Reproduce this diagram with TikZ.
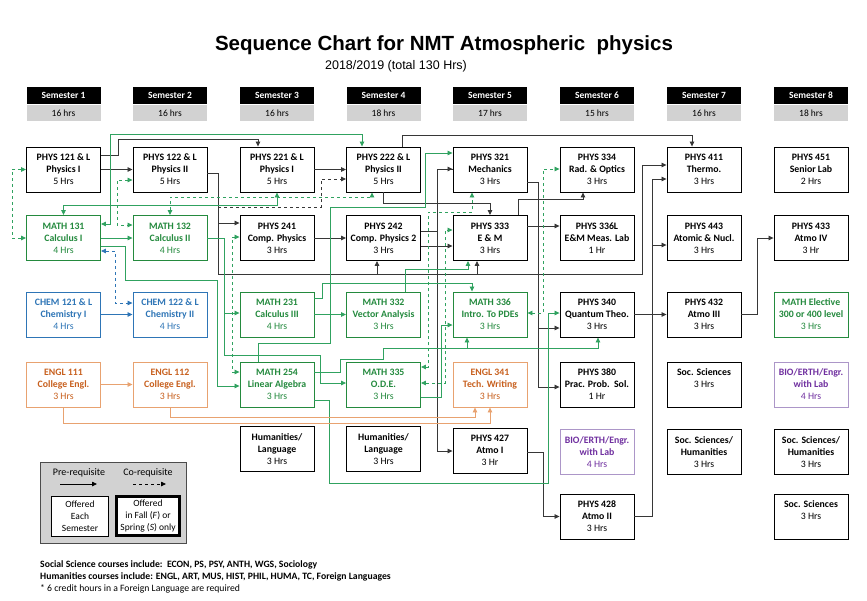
\documentclass[tikz,border=0pt]{standalone}
\usepackage{fontspec}
\setmainfont{Carlito}
\newfontfamily\headfont{Liberation Sans}
\usetikzlibrary{arrows.meta}
\definecolor{mathgreen}{RGB}{36,138,62}
\definecolor{linegreen}{RGB}{48,162,96}
\definecolor{chemblue}{RGB}{46,117,182}
\definecolor{englorange}{RGB}{200,96,30}
\definecolor{orangeline}{RGB}{232,162,112}
\definecolor{biopurple}{RGB}{112,48,160}
\definecolor{purpleline}{RGB}{172,150,200}
\definecolor{hrsgray}{RGB}{210,210,210}
\definecolor{darkline}{RGB}{55,55,55}
\newcommand{\crstext}[3]{\textbf{#1}\\\textbf{#2}\\#3}
\tikzset{
  course/.style={draw=black, line width=0.9pt, fill=white, minimum width=74pt, minimum height=45pt,
    inner sep=0pt, align=center, font=\fontsize{9.8}{12}\selectfont},
  physbox/.style={course},
  mathbox/.style={course, draw=mathgreen, text=mathgreen},
  chembox/.style={course, draw=chemblue, text=chemblue},
  englbox/.style={course, draw=orangeline, text=englorange},
  biobox/.style={course, draw=purpleline, text=biopurple},
  semhead/.style={fill=black, text=white, minimum width=74pt, minimum height=17pt, inner sep=0pt,
    font=\bfseries\fontsize{9.5}{10}\selectfont},
  semhrs/.style={fill=hrsgray, minimum width=74pt, minimum height=16pt, inner sep=0pt,
    font=\fontsize{9.5}{10}\selectfont},
  pre/.style={darkline, line width=0.8pt},
  co/.style={pre, dashed},
  gpre/.style={linegreen, line width=0.8pt},
  gco/.style={gpre, dashed},
  bpre/.style={chemblue, line width=0.8pt},
  opre/.style={orangeline, line width=0.8pt},
}
\begin{document}
\begin{tikzpicture}[x=1pt,y=-1pt,>={Triangle[length=5pt,width=4.5pt]}]
\useasboundingbox (0,0) rectangle (867,600);
\node[font=\headfont\bfseries\fontsize{20.5}{24}\selectfont] (title) at (444,45) {Sequence Chart for NMT Atmospheric\ \ physics};
\node[font=\headfont\fontsize{12.5}{14}\selectfont] (subtitle) at (396,66) {2018/2019 (total 130 Hrs)};

\foreach \cx/\hrs [count=\i] in {63.5/16,170/16,277/16,383.5/18,490/17,597/15,704/16,811/18}{
  \node[semhead] (sem\i) at (\cx,95.5) {Semester \i};
  \node[semhrs] (hrs\i) at (\cx,113) {\hrs\ hrs};
}

% semester 1
\node[physbox] (p121) at (63.5,169.5) {\crstext{PHYS 121 \& L}{Physics I}{5 Hrs}};
\node[mathbox] (m131) at (63.5,238) {\crstext{MATH 131}{Calculus I}{4 Hrs}};
\node[chembox] (c121) at (63.5,314.5) {\crstext{CHEM 121 \& L}{Chemistry I}{4 Hrs}};
\node[englbox] (e111) at (63.5,384.5) {\crstext{ENGL 111}{College Engl.}{3 Hrs}};
% semester 2
\node[physbox] (p122) at (170,169.5) {\crstext{PHYS 122 \& L}{Physics II}{5 Hrs}};
\node[mathbox] (m132) at (170,238) {\crstext{MATH 132}{Calculus II}{4 Hrs}};
\node[chembox] (c122) at (170,314.5) {\crstext{CHEM 122 \& L}{Chemistry II}{4 Hrs}};
\node[englbox] (e112) at (170,384.5) {\crstext{ENGL 112}{College Engl.}{3 Hrs}};
% semester 3
\node[physbox] (p221) at (277,169.5) {\crstext{PHYS 221 \& L}{Physics I}{5 Hrs}};
\node[physbox] (p241) at (277,238) {\crstext{PHYS 241}{Comp. Physics}{3 Hrs}};
\node[mathbox] (m231) at (277,314.5) {\crstext{MATH 231}{Calculus III}{4 Hrs}};
\node[mathbox] (m254) at (277,384.5) {\crstext{MATH 254}{Linear Algebra}{3 Hrs}};
\node[physbox] (hum3) at (277,449) {\crstext{Humanities/}{Language}{3 Hrs}};
% semester 4
\node[physbox] (p222) at (383.5,169.5) {\crstext{PHYS 222 \& L}{Physics II}{5 Hrs}};
\node[physbox] (p242) at (383.5,238) {\crstext{PHYS 242}{Comp. Physics 2}{3 Hrs}};
\node[mathbox] (m332) at (383.5,314.5) {\crstext{MATH 332}{Vector Analysis}{3 Hrs}};
\node[mathbox] (m335) at (383.5,384.5) {\crstext{MATH 335}{O.D.E.}{3 Hrs}};
\node[physbox] (hum4) at (383.5,449) {\crstext{Humanities/}{Language}{3 Hrs}};
% semester 5
\node[physbox] (p321) at (490,169.5) {\crstext{PHYS 321}{Mechanics}{3 Hrs}};
\node[physbox] (p333) at (490,238) {\crstext{PHYS 333}{E \& M}{3 Hrs}};
\node[mathbox] (m336) at (490,314.5) {\crstext{MATH 336}{Intro. To PDEs}{3 Hrs}};
\node[englbox] (e341) at (490,384.5) {\crstext{ENGL 341}{Tech. Writing}{3 Hrs}};
\node[physbox] (p427) at (490,450.5) {\crstext{PHYS 427}{Atmo I}{3 Hr}};
% semester 6
\node[physbox] (p334) at (597,169.5) {\crstext{PHYS 334}{Rad. \& Optics}{3 Hrs}};
\node[physbox] (p336) at (597,238) {\crstext{PHYS 336L}{E\&M Meas. Lab}{1 Hr}};
\node[physbox] (p340) at (597,314.5) {\crstext{PHYS 340}{Quantum Theo.}{3 Hrs}};
\node[physbox] (p380) at (597,384.5) {\crstext{PHYS 380}{Prac. Prob.\ \ Sol.}{1 Hr}};
\node[biobox] (bio6) at (597,452) {\crstext{BIO/ERTH/Engr.}{with Lab}{4 Hrs}};
\node[physbox] (p428) at (597,516.5) {\crstext{PHYS 428}{Atmo II}{3 Hrs}};
% semester 7
\node[physbox] (p411) at (704,169.5) {\crstext{PHYS 411}{Thermo.}{3 Hrs}};
\node[physbox] (p443) at (704,238) {\crstext{PHYS 443}{Atomic \& Nucl.}{3 Hrs}};
\node[physbox] (p432) at (704,314.5) {\crstext{PHYS 432}{Atmo III}{3 Hrs}};
\node[physbox] (soc7) at (704,384.5) {\textbf{Soc. Sciences}\\3 Hrs\\\mbox{}};
\node[physbox] (sh7) at (704,452) {\crstext{Soc. Sciences/}{Humanities}{3 Hrs}};
% semester 8
\node[physbox] (p451) at (811,169.5) {\crstext{PHYS 451}{Senior Lab}{2 Hrs}};
\node[physbox] (p433) at (811,238) {\crstext{PHYS 433}{Atmo IV}{3 Hr}};
\node[mathbox] (mel8) at (811,314.5) {\crstext{MATH Elective}{300 or 400 level}{3 Hrs}};
\node[biobox] (bio8) at (811,384.5) {\crstext{BIO/ERTH/Engr.}{with Lab}{4 Hrs}};
\node[physbox] (sh8) at (811,452) {\crstext{Soc. Sciences/}{Humanities}{3 Hrs}};
\node[physbox] (soc8) at (811,516.5) {\textbf{Soc. Sciences}\\3 Hrs\\\mbox{}};

% physics chain
\draw[pre,->] (p121.east |- 0,155) -- (118,155) -- (118,139) -- (258,139) -- (p221.north -| 258,0);
\draw[pre,->] (p121) -- (p122);
\draw[pre,->] (p122.east |- 0,173) -- (218,173) -- (218,274) -- (642,274) -- (642,165) -- (p411.west |- 0,165);
\draw[pre,->] (218,223) -- (p241.west |- 0,223);
\draw[pre,->] (377,274) -- (p242.south -| 377,0);
\draw[pre,->] (477,274) -- (p333.south -| 477,0);
\draw[pre,->] (p221) -- (p222);
\draw[co,->] (218,207) -- (321,207) -- (321,179) -- (p222.west |- 0,179);
\draw[pre,->] (p222.north -| 402,0) -- (402,135) -- (692,135) -- (p411.north -| 692,0);
\draw[pre,->] (p222.south -| 383,0) -- (383,203) -- (490,203) -- (p333.north);
\draw[pre,->] (p241) -- (p242);
\draw[pre] (p242.east |- 0,231) -- (437,231);
\draw[pre,->] (p321.west |- 0,169) -- (437,169) -- (437,451) -- (p427.west |- 0,451);
\draw[pre,<-] (p321.west |- 0,169) -- (437,169);
\draw[pre,->] (p242.east |- 0,246) -- (p333.west |- 0,246);
\draw[pre,->] (p321.east |- 0,182) -- (538,182) -- (538,387) -- (p380.west |- 0,387);
\draw[pre,->] (538,328) -- (p340.west |- 0,328);
\draw[pre,->] (p333.north -| 518,0) -- (518,199) -- (583,199) -- (p334.south -| 583,0);
\draw[pre,->] (p333.east |- 0,226) -- (p336.west |- 0,226);
\draw[pre,->] (p340) -- (p432);
\draw[pre,->] (p428.east) -- (652,516.5) -- (652,179) -- (p411.west |- 0,179);
\draw[pre,->] (652,245) -- (p443.west |- 0,245);
\draw[pre,->] (p432.east) -- (757,314.5) -- (757,238) -- (p433.west);
\draw[pre,->] (p427.east |- 0,452) -- (543,452) -- (543,516.5) -- (p428.west);

% math chain
\draw[gpre,<->] (m131.east |- 0,224) -- (110,224) -- (110,134) -- (362,134) -- (p222.north -| 362,0);
\draw[gpre,<->] (m131.north) -- (63.5,205) -- (277,205) -- (p221.south);
\draw[gpre,->] (m131) -- (m132);
\draw[gpre,->] (m131.east |- 0,246) -- (125,246) -- (125,280) -- (217,280) -- (217,386) -- (m254.west |- 0,386);
\draw[gpre,->] (m132.east) -- (224,238) -- (224,313) -- (m231.west |- 0,313);
\draw[gpre] (224,313) -- (224,355) -- (320,355) -- (320,372);
\draw[gpre,->] (m254.east |- 0,372) -- (320,372) -- (320,383) -- (m335.west |- 0,383);
\draw[gpre,->] (m231.east |- 0,314.5) -- (m332.west |- 0,314.5);
\draw[gpre,->] (m231.east |- 0,298) -- (322,298) -- (322,283) -- (472,283) -- (m336.north -| 472,0);
\draw[gpre,->] (m254.north -| 258,0) -- (258,343) -- (330,343) -- (330,207) -- (425,207) -- (425,153) -- (p321.west |- 0,153);
\draw[gpre,->] (m332.north -| 405,0) -- (405,269) -- (468,269) -- (p333.south -| 468,0);
\draw[gpre,->] (m254.east |- 0,372) -- (340,372) -- (340,359) -- (383,359) -- (383,348) -- (598,348) -- (p340.south -| 598,0);
\draw[gpre,->] (467,348) -- (m336.south -| 467,0);
\draw[gpre,->] (m254.east |- 0,400) -- (329,400) -- (329,483) -- (548,483) -- (548,313) -- (p340.west |- 0,313);
\draw[gpre,->] (m335.east |- 0,397) -- (441,397) -- (441,325) -- (m336.west |- 0,325);

% co-requisites
\draw[gco,<->] (p121.west) -- (12,169.5) -- (12,238) -- (m131.west);
\draw[gco,<->] (p122.west |- 0,180) -- (117,180) -- (117,225) -- (m132.west |- 0,225);
\draw[gco,<->] (m132.north -| 170,0) -- (170,197) -- (372,197) -- (p222.south -| 372,0);
\draw[gco,<->] (p241.west |- 0,237) -- (232,237) -- (232,372) -- (m254.west |- 0,372);
\draw[gco,<->] (m335.east |- 0,367) -- (428,367) -- (428,212) -- (472,212) -- (p321.south -| 472,0);
\draw[gco,<->] (m335.east |- 0,383) -- (445,383) -- (445,230) -- (p333.west |- 0,230);
\draw[gco,<->] (m336.east |- 0,313) -- (543,313) -- (543,169) -- (p334.west |- 0,169);

% chemistry and english
\draw[bpre,->] (c121) -- (c122);
\draw[bpre,dashed,<->] (m131.east |- 0,251) -- (115,251) -- (115,303) -- (c122.west |- 0,303);
\draw[opre,->] (e111) -- (e112);
\draw[opre,->] (e111.south) -- (63.5,423) -- (490,423) -- (e341.south -| 490,0);
\draw[opre,->] (e112.south) -- (170,417) -- (475,417) -- (e341.south -| 475,0);

% legend
\node[draw=gray!60!black, fill=hrsgray, minimum width=146pt, minimum height=81pt, inner sep=0pt] (legend) at (113.5,502.5) {};
\node[font=\fontsize{10}{11}\selectfont] (prelbl) at (79,473) {Pre-requisite};
\node[font=\fontsize{10}{11}\selectfont] (colbl) at (148,473) {Co-requisite};
\coordinate (preA) at (60,484);
\coordinate (preB) at (97,484);
\coordinate (coA) at (133,484);
\coordinate (coB) at (166,484);
\draw[line width=0.8pt,->] (preA) -- (preB);
\draw[line width=0.8pt,dashed,->] (coA) -- (coB);
\node[draw, fill=white, line width=0.8pt, minimum width=57pt, minimum height=40pt, inner sep=0pt, align=center,
  font=\fontsize{9.5}{12}\selectfont] (each) at (80,516) {Offered\\Each\\Semester};
\node[draw, fill=white, line width=2.6pt, minimum width=63pt, minimum height=39pt, inner sep=0pt, align=center,
  font=\fontsize{9.5}{12}\selectfont] (fallspring) at (148,516) {Offered\\in Fall (\textit{F}) or\\Spring (\textit{S}) only};

% notes
\node[anchor=base west, font=\bfseries\fontsize{9.7}{12}\selectfont, inner sep=0pt] (note1) at (40,567) {Social Science courses include:\ \ ECON, PS, PSY, ANTH, WGS, Sociology};
\node[anchor=base west, font=\bfseries\fontsize{9.7}{12}\selectfont, inner sep=0pt] (note2) at (40,579) {Humanities courses include: ENGL, ART, MUS, HIST, PHIL, HUMA, TC, Foreign Languages};
\node[anchor=base west, font=\fontsize{9.7}{12}\selectfont, inner sep=0pt] (note3) at (40,591) {* 6 credit hours in a Foreign Language are required};
\end{tikzpicture}
\end{document}
